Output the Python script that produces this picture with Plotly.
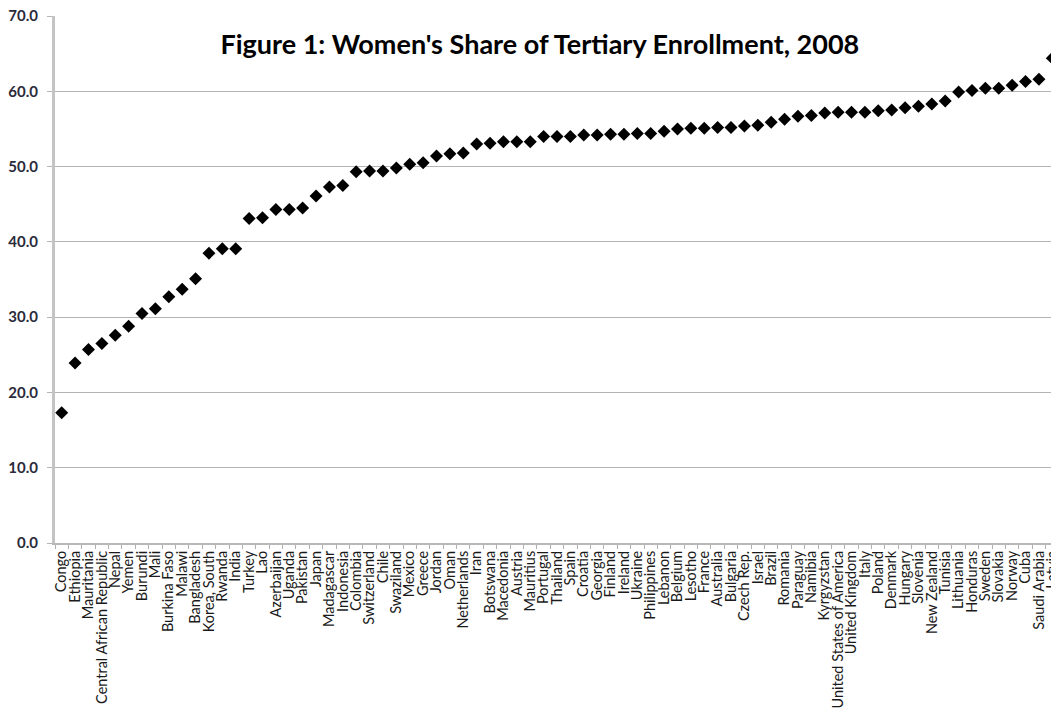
import plotly.graph_objects as go

countries = [
    "Congo", "Ethiopia", "Mauritania", "Central African Republic", "Nepal", "Yemen",
    "Burundi", "Mali", "Burkina Faso", "Malawi", "Bangladesh", "Korea, South", "Rwanda",
    "India", "Turkey", "Lao", "Azerbaijan", "Uganda", "Pakistan", "Japan", "Madagascar",
    "Indonesia", "Colombia", "Switzerland", "Chile", "Swaziland", "Mexico", "Greece",
    "Jordan", "Oman", "Netherlands", "Iran", "Botswana", "Macedonia", "Austria",
    "Mauritius", "Portugal", "Thailand", "Spain", "Croatia", "Georgia", "Finland",
    "Ireland", "Ukraine", "Philippines", "Lebanon", "Belgium", "Lesotho", "France",
    "Australia", "Bulgaria", "Czech Rep.", "Israel", "Brazil", "Romania", "Paraguay",
    "Namibia", "Kyrgyzstan", "United States of America", "United Kingdom", "Italy",
    "Poland", "Denmark", "Hungary", "Slovenia", "New Zealand", "Tunisia", "Lithuania",
    "Honduras", "Sweden", "Slovakia", "Norway", "Cuba", "Saudi Arabia", "Latvia",
]

share = [
    17.3, 23.9, 25.7, 26.5, 27.6, 28.8,
    30.5, 31.1, 32.7, 33.7, 35.1, 38.5, 39.1,
    39.1, 43.1, 43.2, 44.3, 44.3, 44.5, 46.1, 47.3,
    47.5, 49.3, 49.4, 49.4, 49.8, 50.3, 50.5,
    51.4, 51.7, 51.8, 53.0, 53.1, 53.3, 53.3,
    53.3, 54.0, 54.0, 54.0, 54.2, 54.2, 54.3,
    54.3, 54.4, 54.4, 54.7, 55.0, 55.1, 55.1,
    55.2, 55.2, 55.4, 55.5, 55.9, 56.3, 56.7,
    56.8, 57.1, 57.2, 57.2, 57.2,
    57.4, 57.5, 57.8, 58.0, 58.3, 58.7, 59.9,
    60.1, 60.4, 60.4, 60.8, 61.3, 61.6, 64.4,
]

y_ticks = [0, 10, 20, 30, 40, 50, 60, 70]
y_tick_text = [f"{v:.1f}" for v in y_ticks]

fig = go.Figure(
    go.Scatter(
        x=countries,
        y=share,
        mode="markers",
        marker=dict(symbol="diamond", size=10, color="black"),
        showlegend=False,
        cliponaxis=False,
    )
)

# page body has an 8px margin, so the figure is sized to fill the rest of the window
fig.update_layout(
    width=1051,
    height=711,
    paper_bgcolor="white",
    plot_bgcolor="white",
    margin=dict(l=47, r=0, t=8, b=176, autoexpand=False),
    title=dict(
        text="<b>Figure 1: Women's Share of Tertiary Enrollment, 2008</b>",
        x=0.506,
        xanchor="center",
        y=0.948,
        yanchor="middle",
        font=dict(family="Lato", size=27, color="black"),
    ),
)

fig.update_xaxes(
    type="category",
    tickmode="array",
    tickvals=countries,
    ticktext=countries,
    automargin=False,
    tickangle=-90,
    tickfont=dict(family="Lato", size=14.5, color="#1a1a1a"),
    ticklabeloverflow="allow",
    showgrid=False,
    showline=True,
    linecolor="#b8b8b8",
    linewidth=2,
    ticks="outside",
    tickson="boundaries",
    ticklen=4,
    tickcolor="#b0b0b0",
    range=[-0.5, len(countries) - 0.5],
)

fig.update_yaxes(
    range=[0, 70],
    tickvals=y_ticks,
    ticktext=y_tick_text,
    automargin=False,
    tickfont=dict(family="Lato", size=15, color="#2a2a3a", weight="bold"),
    ticklabelstandoff=6,
    ticklabeloverflow="allow",
    showgrid=True,
    gridcolor="#b4b4b4",
    gridwidth=1,
    showline=True,
    linecolor="#c4c4c4",
    linewidth=3,
    ticks="outside",
    ticklen=5,
    tickcolor="#b4b4b4",
    zeroline=False,
)

fig.write_html("out.html")
